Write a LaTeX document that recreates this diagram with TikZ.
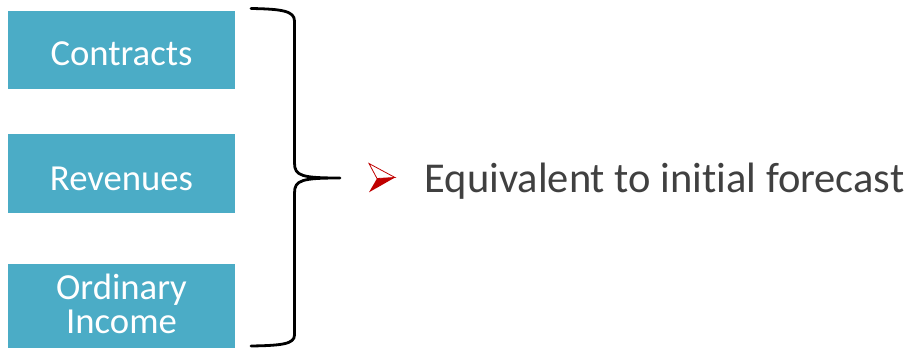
\documentclass[tikz,border=0pt]{standalone}
\usepackage{fontspec}
\setmainfont{Carlito}[Ligatures=NoCommon]
\definecolor{boxblue}{RGB}{75,172,198}
\definecolor{txtgray}{RGB}{64,64,64}
\definecolor{arrred}{RGB}{192,0,0}
\begin{document}
\begin{tikzpicture}[x=1pt,y=-1pt,
  box/.style={draw=none,fill=boxblue,minimum width=227pt,inner sep=0pt,outer sep=0pt},
  boxtext/.style={text=white,inner sep=0pt,font=\fontsize{36.7}{34}\selectfont,align=center},
  maintext/.style={text=txtgray,inner sep=0pt,font=\fontsize{42.5}{48}\selectfont},
  bracestyle/.style={draw=black,line width=2.8pt,line cap=round,line join=round}]
\useasboundingbox (0,0) rectangle (910,348);
\node[box,minimum height=78pt] (b1) at (121.5,50) {};
\node[box,minimum height=78.7pt] (b2) at (121.5,173.3) {};
\node[box,minimum height=84pt] (b3) at (121.5,306) {};
\node[boxtext,anchor=base] (t1) at (121.5,65.7) {Contracts};
\node[boxtext,anchor=base] (t2) at (121.5,190) {Revenues};
\node[boxtext,anchor=base] (t3) at (121.5,333) {Ordinary\\Income};
% brace
\coordinate (btop) at (251,8.5);
\coordinate (btip) at (340,178);
\coordinate (bbot) at (251,346);
\draw[bracestyle] (btop) .. controls (282,9) and (294.5,11) .. (294.5,21)
  -- (294.5,163) .. controls (294.5,176) and (302,178) .. (btip)
  .. controls (302,178) and (294.5,180) .. (294.5,193)
  -- (294.5,335) .. controls (294.5,344) and (282,345.5) .. (bbot);
% arrowhead bullet
\coordinate (atl) at (369,163.5);
\coordinate (atip) at (395,177.5);
\coordinate (abl) at (369,192.3);
\coordinate (anotch) at (377,178.5);
\fill[arrred] (anotch) -- (atip) -- (abl) -- cycle;
\draw[arrred,line width=0.8pt,line join=miter] (atl) -- (atip) -- (anotch) -- cycle;
\node[maintext,anchor=base west] (m) at (424.5,192.3) {Equivalent to initial forecast};
\end{tikzpicture}
\end{document}
